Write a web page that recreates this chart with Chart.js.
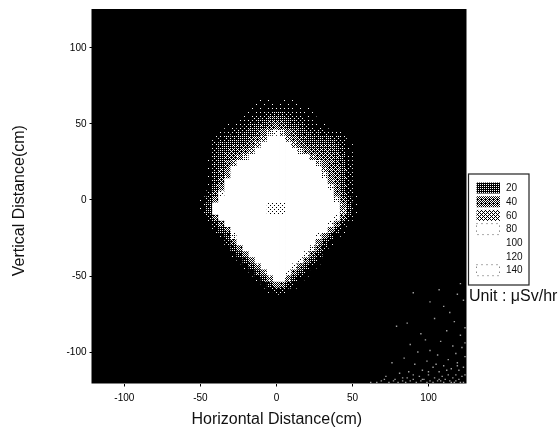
<!DOCTYPE html>
<html><head><meta charset="utf-8">
<style>html,body{margin:0;padding:0;background:#fff}canvas{display:block}</style>
<script src="https://cdn.jsdelivr.net/npm/chart.js@4"></script>
</head><body><canvas id="c" width="559" height="432"></canvas>
<script>
const xTicks=[-100,-50,0,50,100];
const yTicks=[-100,-50,0,50,100];
const legendValues=[20,40,60,80,100,120,140];
const unitLabel="Unit : \u03BCSv/hr";
const xTitle="Horizontal Distance(cm) ";
const yTitle="Vertical Distance(cm)  ";
const gridX=[-48,-44,-40,-36,-32,-28,-24,-20,-16,-12,-8,-4,0,4,8,12,16,20,24,28,32,36,40,44,48,52];
const gridY=[64,60,56,52,48,44,40,36,32,28,24,20,16,12,8,4,0,-4,-8,-12,-16,-20,-24,-28,-32,-36,-40,-44,-48,-52,-56,-60];
const doseRows=[
[0,0,0,0,0,0,0,0,0,2,2,2,0,2,2,2,0,0,0,0,0,0,0,0,0,0],
[0,0,0,0,0,0,0,0,2,2,3,5,5,5,5,3,2,2,0,0,0,0,0,0,0,0],
[0,0,0,0,0,0,0,2,3,5,8,12,15,15,10,8,5,3,2,0,0,0,0,0,0,0],
[0,0,0,0,0,0,2,5,8,12,18,25,30,25,20,15,10,5,2,0,0,0,0,0,0,0],
[0,0,0,0,2,3,5,10,15,20,25,35,45,35,25,20,15,10,5,3,2,0,0,0,0,0],
[0,0,0,2,5,8,12,18,22,28,45,65,75,65,45,32,22,18,12,12,8,5,5,2,0,0],
[0,0,3,8,12,15,18,22,28,40,60,80,85,85,60,42,30,22,18,18,18,18,12,8,0,0],
[0,0,8,18,20,22,25,30,40,60,80,90,90,90,80,60,40,30,25,25,25,25,18,12,3,0],
[0,0,8,18,25,30,30,40,60,80,90,90,95,95,90,80,65,45,35,30,30,30,22,12,3,0],
[0,0,12,22,30,35,50,65,80,90,95,95,100,100,95,90,85,80,55,40,35,35,28,18,5,0],
[0,3,12,22,35,55,80,85,90,95,100,100,105,105,100,95,90,85,80,65,45,35,30,18,5,0],
[0,3,12,28,45,80,85,90,95,100,105,105,110,110,105,100,95,90,85,80,55,40,35,22,8,0],
[0,3,15,28,50,80,85,90,95,100,105,110,110,110,105,100,95,90,85,80,70,45,35,22,8,0],
[0,3,15,35,80,85,90,95,100,105,110,115,115,115,110,105,100,95,90,85,80,50,35,22,8,0],
[0,3,22,45,80,85,90,95,100,110,115,120,120,120,115,110,100,95,90,85,80,70,40,22,8,0],
[0,8,30,75,85,90,95,100,105,110,120,125,125,125,120,110,105,100,95,90,85,80,45,28,8,3],
[3,12,45,80,85,90,95,100,105,115,120,130,130,130,120,115,105,100,95,90,85,80,70,35,12,3],
[3,18,80,85,90,95,100,105,110,115,125,140,140,140,125,115,110,105,100,95,90,85,80,50,18,3],
[3,18,80,85,90,95,100,105,110,115,125,140,140,140,125,115,110,105,100,95,90,85,80,60,18,3],
[0,8,40,80,85,90,95,100,105,115,120,130,130,130,120,115,105,100,95,90,85,80,75,35,8,0],
[0,0,12,35,80,85,90,95,100,105,110,115,120,115,110,105,100,95,90,85,80,75,40,8,0,0],
[0,0,3,18,40,80,85,90,95,100,105,110,115,110,105,100,95,90,85,80,80,50,12,3,0,0],
[0,0,0,3,18,70,80,85,90,95,100,105,110,105,100,95,90,85,80,75,45,18,3,0,0,0],
[0,0,0,0,8,35,80,85,90,95,100,100,105,100,100,95,90,85,80,50,18,3,0,0,0,0],
[0,0,0,0,0,18,45,80,85,90,95,95,100,95,95,90,85,80,70,30,8,0,0,0,0,0],
[0,0,0,0,0,3,18,45,80,85,90,90,95,90,90,85,80,75,35,12,0,0,0,0,0,0],
[0,0,0,0,0,0,3,18,45,80,85,85,90,85,85,80,75,40,18,3,0,0,0,0,0,0],
[0,0,0,0,0,0,0,3,22,50,80,85,85,85,80,75,40,18,3,0,0,0,0,0,0,0],
[0,0,0,0,0,0,0,0,3,22,50,80,85,85,75,40,18,3,0,0,0,0,0,0,0,0],
[0,0,0,0,0,0,0,0,0,3,22,55,80,80,50,18,3,0,0,0,0,0,0,0,0,0],
[0,0,0,0,0,0,0,0,0,0,3,18,45,40,12,3,0,0,0,0,0,0,0,0,0,0],
[0,0,0,0,0,0,0,0,0,0,0,3,8,8,0,0,0,0,0,0,0,0,0,0,0,0]
];
const speckleX=[121,107,101,90,86,114,79,119,110,95,104,117,123,98,112,88,121,108,116,101,93,124,84,118,106,99,113,122,76,91,110,119,103,96,124,115,87,107,120,81,100,113,123,94,109,118,72,86,104,116,122,97,111,78,90,120,106,124,101,114,83,95,108,118,69,77,88,99,110,121,74,85,92,103,115,123,66,80,96,107,117,62,71,83,90,100,112,119,124,105];
const speckleY=[-55,-59,-67,-61,-81,-74,-83,-62,-70,-88,-78,-80,-66,-92,-86,-95,-89,-93,-96,-99,-100,-84,-104,-101,-102,-106,-105,-97,-107,-108,-109,-107,-110,-112,-103,-111,-113,-113,-112,-114,-115,-115,-110,-116,-116,-115,-116,-117,-117,-117,-116,-118,-118,-118,-118,-118,-119,-115,-119,-119,-119,-119,-119,-119,-119,-119,-119,-120,-120,-120,-120,-120,-120,-120,-120,-120,-120,-120,-118,-118,-120,-120,-118,-117,-115,-113,-112,-109,-94,-108];

const bayer4=[[0,8,2,10],[12,4,14,6],[3,11,1,9],[15,7,13,5]];
const bayer2=[[0,2],[3,1]];
const patternCache={};
function whiteShare(v){
  if(v>=135) return 0.88;
  if(v>=80) return 1;
  if(v>=60) return 0.62+(v-60)/20*0.38;
  if(v>=20) return 0.25+(v-20)/40*0.37;
  return v/20*0.25;
}
function doseFill(v){
  const on=Math.round(whiteShare(v)*64);
  if(patternCache[on]) return patternCache[on];
  const p=document.createElement('canvas');p.width=8;p.height=8;
  const g=p.getContext('2d');
  for(let r=0;r<8;r++)for(let k=0;k<8;k++){
    const t=4*bayer4[r%4][k%4]+bayer2[r>>2][k>>2];
    g.fillStyle=t<on?'#fff':'#000';g.fillRect(k,r,1,1);
  }
  return patternCache[on]=document.createElement('canvas').getContext('2d').createPattern(p,'repeat');
}
const cells=[];
doseRows.forEach((row,r)=>row.forEach((v,c)=>{ if(v>0) cells.push({x:gridX[c],y:gridY[r],v}); }));
const speckles=speckleX.map((x,i)=>({x,y:speckleY[i]}));

const backdrop={id:'backdrop',beforeDatasetsDraw(ch){
  const a=ch.chartArea,g=ch.ctx;g.save();g.fillStyle='#000';g.fillRect(a.left,a.top,a.width,a.height);g.restore();
}};
const doseLegend={id:'doseLegend',afterDraw(ch){
  const g=ch.ctx;g.save();
  g.strokeStyle='#222';g.lineWidth=1.2;g.strokeRect(468.5,174,60.5,111);
  g.font='10px "Liberation Sans"';g.textBaseline='middle';g.textAlign='left';
  legendValues.forEach((v,i)=>{
    const cy=188+i*13.7;
    if(v<80){g.fillStyle=doseFill(v);g.fillRect(476.5,cy-5.5,23.5,11);}
    if(v===80||v===140){g.strokeStyle='#555';g.lineWidth=1;g.setLineDash([1,4]);g.strokeRect(476.5,cy-5.5,23,11);g.setLineDash([]);}
    g.fillStyle='#111';g.fillText(String(v),506,cy+0.5);
  });
  g.font='16px "Liberation Sans"';g.fillStyle='#111';g.fillText(unitLabel,469,297);
  g.restore();
}};
new Chart(document.getElementById('c'),{
  type:'scatter',
  data:{datasets:[
    {label:'Dose',data:cells,pointStyle:'rect',pointRadius:4.9,pointBorderWidth:0,
     pointBackgroundColor:c=>doseFill(c.raw.v)},
    {label:'Background',data:speckles,pointStyle:'rect',pointRadius:1,pointBorderWidth:0,pointBackgroundColor:'#a0a0a0'}
  ]},
  options:{
    responsive:false,animation:false,events:[],
    layout:{padding:{left:0,top:8,right:92.5,bottom:0}},
    plugins:{legend:{display:false},tooltip:{enabled:false}},
    scales:{
      x:{type:'linear',min:-121.6,max:125,
        afterFit(s){s.height=48.5;},
        afterBuildTicks(s){s.ticks=xTicks.map(value=>({value}));},
        grid:{drawOnChartArea:false,drawTicks:true,tickLength:3,color:'#000'},border:{display:false},
        ticks:{padding:6,maxRotation:0,autoSkip:false,color:'#000',font:{family:'"Liberation Sans"',size:10}},
        title:{display:true,text:xTitle,color:'#111',font:{family:'"Liberation Sans"',size:16},padding:{top:0,bottom:2.4}}},
      y:{type:'linear',min:-120.7,max:125.6,
        afterFit(s){s.width=91.5;},
        afterBuildTicks(s){s.ticks=yTicks.map(value=>({value}));},
        grid:{drawOnChartArea:false,drawTicks:true,tickLength:2,color:'#000'},border:{display:false},
        ticks:{padding:3,autoSkip:false,color:'#000',font:{family:'"Liberation Sans"',size:10}},
        title:{display:true,text:yTitle,color:'#111',font:{family:'"Liberation Sans"',size:16},padding:{top:10,bottom:0}}}
    }
  },
  plugins:[backdrop,doseLegend]
});
</script></body></html>
